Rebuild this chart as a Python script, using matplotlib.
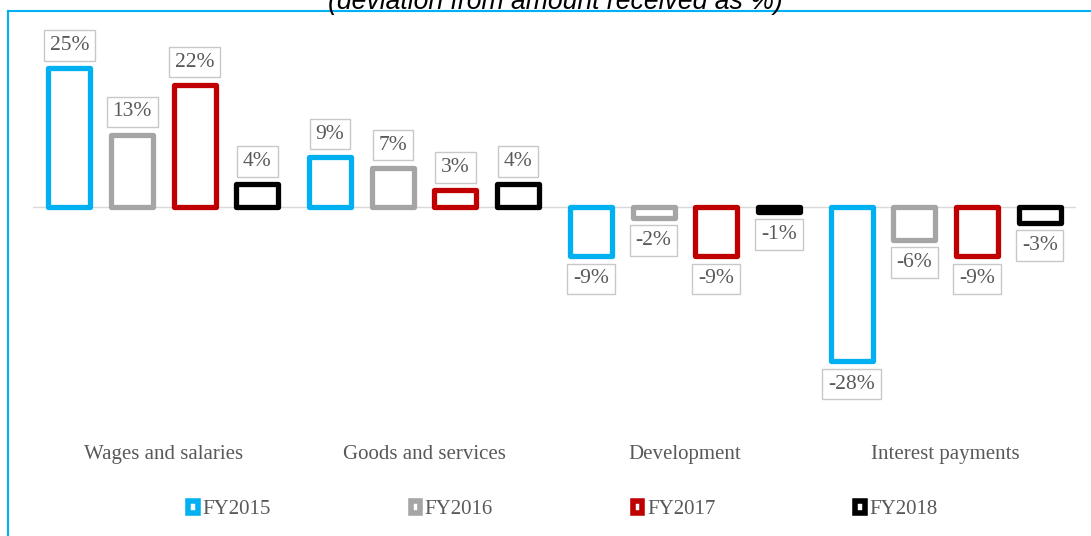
import matplotlib
matplotlib.use("Agg")
import matplotlib.pyplot as plt
from matplotlib.patches import Patch
from matplotlib.lines import Line2D
import numpy as np

categories = ["Wages and salaries", "Goods and services", "Development", "Interest payments"]
series_names = ["FY2015", "FY2016", "FY2017", "FY2018"]
fy2015 = [25, 9, -9, -28]
fy2016 = [13, 7, -2, -6]
fy2017 = [22, 3, -9, -9]
fy2018 = [4, 4, -1, -3]
series_values = [fy2015, fy2016, fy2017, fy2018]
colors = ["#00B0F0", "#A5A5A5", "#C00000", "#000000"]
title = "(deviation from amount received as %)"

W, H = 1091, 536
fig = plt.figure(figsize=(W / 100, H / 100), dpi=100)
serif = ["Liberation Serif", "DejaVu Serif"]

# axes placement in pixels
ax_left, ax_right = 33, 1076
ax_top, ax_bot = 20, 420
ax = fig.add_axes([ax_left / W, 1 - ax_bot / H, (ax_right - ax_left) / W, (ax_bot - ax_top) / H])
zero_px = 206.5
ppu = 5.53
ax.set_xlim(-0.5, len(categories) - 0.5)
ax.set_ylim(-(ax_bot - zero_px) / ppu, (zero_px - ax_top) / ppu)

x = np.arange(len(categories))
step = 0.2405
width = 0.161
ax.axhline(0, color="#D9D9D9", lw=1, zorder=1)
for i, (name, vals, c) in enumerate(zip(series_names, series_values, colors)):
    xs = x + (i - 1.5) * step
    bars = ax.bar(xs, vals, width=width, facecolor="white", edgecolor=c,
                  linewidth=3.8, joinstyle="round", zorder=3, label=name)
    for xi, v in zip(xs, vals):
        off = 9.5 if v >= 0 else -9.5
        ax.annotate(f"{v}%", (xi, v), xytext=(0, off), textcoords="offset points",
                    ha="center", va="bottom" if v >= 0 else "top",
                    fontsize=15.5, color="#595959", family=serif, zorder=5,
                    bbox=dict(boxstyle="square,pad=0.27", fc="white", ec="#C8C8C8", lw=1))

ax.set_xticks(x)
ax.set_xticklabels(categories, fontsize=15, color="#595959", family=serif)
ax.tick_params(axis="x", length=0, pad=18)
ax.set_yticks([])
for s in ax.spines.values():
    s.set_visible(False)

handles = [Patch(facecolor="white", edgecolor=c, linewidth=4, joinstyle="round", label=n)
           for n, c in zip(series_names, colors)]
leg = fig.legend(handles=handles, loc="center", bbox_to_anchor=(563 / W, 1 - 510 / H),
                 ncol=4, frameon=False, handlelength=0.45, handleheight=0.5,
                 handletextpad=0.22, columnspacing=6.72, borderpad=0,
                 prop={"family": serif, "size": 15})
for t in leg.get_texts():
    t.set_color("#595959")

# title (partially cut at the top, as in the source image)
fig.text(555 / W, 1 - 9 / H, title, ha="center", va="baseline", fontsize=19.2,
         style="italic", family=["Liberation Sans", "DejaVu Sans"], color="black")

# chart-area border (blue, left and top)
fig.add_artist(Line2D([8 / W, 8 / W], [0, 1 - 10.5 / H], color="#00B0F0", lw=1.5))
fig.add_artist(Line2D([8 / W, 1], [1 - 10.5 / H, 1 - 10.5 / H], color="#00B0F0", lw=1.5))

fig.savefig("out.png", dpi=100, facecolor="white")
